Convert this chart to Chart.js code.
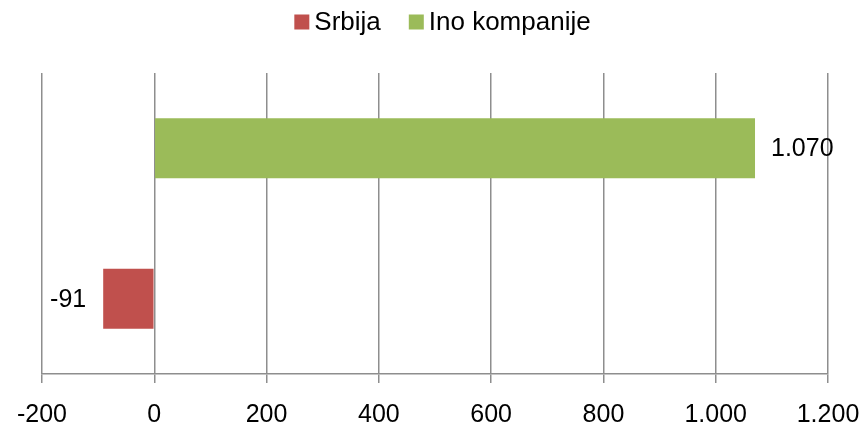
<!DOCTYPE html>
<html>
<head>
<meta charset="utf-8">
<script src="https://cdn.jsdelivr.net/npm/chart.js@4/dist/chart.umd.min.js"></script>
<style>
  html, body { margin: 0; padding: 0; background: #fff; }
</style>
</head>
<body>
<canvas id="barChart" width="865" height="425"></canvas>
<script>
// one bar per row, top row = Ino kompanije, bottom row = Srbija
const rows = ['Ino kompanije', 'Srbija'];
const srbija = [null, -91];
const inoKompanije = [1070, null];
const xTicks = [-200, 0, 200, 400, 600, 800, 1000, 1200];

const FONT = '"Liberation Sans", Arial, sans-serif';

function fmt(v) {
    const s = Math.abs(v).toString().replace(/\B(?=(\d{3})+(?!\d))/g, '.');
    return (v < 0 ? '-' : '') + s;
}

const valueLabels = {
    id: 'valueLabels',
    afterDatasetsDraw(chart) {
        const ctx = chart.ctx;
        ctx.save();
        ctx.font = '25px ' + FONT;
        ctx.fillStyle = '#000';
        ctx.textBaseline = 'middle';
        chart.data.datasets.forEach((ds, i) => {
            const meta = chart.getDatasetMeta(i);
            meta.data.forEach((bar, j) => {
                const v = ds.data[j];
                if (v === null) return;
                if (v >= 0) {
                    ctx.textAlign = 'left';
                    ctx.fillText(fmt(v), bar.x + 16, bar.y + 1);
                } else {
                    ctx.textAlign = 'right';
                    ctx.fillText(fmt(v), bar.x - 17, bar.y + 1);
                }
            });
        });
        ctx.restore();
    }
};

// legend drawn by hand: small square, short gap, label
const topLegend = {
    id: 'topLegend',
    afterDraw(chart) {
        const ctx = chart.ctx;
        const box = 15, gap = 5, between = 28;
        ctx.save();
        ctx.font = '26px ' + FONT;
        ctx.textBaseline = 'middle';
        ctx.textAlign = 'left';
        const items = chart.data.datasets.map(ds => ({
            text: ds.label,
            color: ds.backgroundColor,
            w: ctx.measureText(ds.label).width
        }));
        let total = items.reduce((s, it) => s + box + gap + it.w, 0) + between * (items.length - 1);
        let x = chart.width / 2 + 10 - total / 2;
        const cy = 22;
        items.forEach(it => {
            ctx.fillStyle = it.color;
            ctx.fillRect(x, cy - box / 2, box, box);
            ctx.fillStyle = '#000';
            ctx.fillText(it.text, x + box + gap, cy + 1);
            x += box + gap + it.w + between;
        });
        ctx.restore();
    }
};

document.addEventListener('DOMContentLoaded', () => {
    const ctx = document.getElementById('barChart').getContext('2d');

    new Chart(ctx, {
        type: 'bar',
        data: {
            labels: rows,
            datasets: [{
                label: 'Srbija',
                data: srbija,
                backgroundColor: '#C0504D',
                borderWidth: 0
            }, {
                label: 'Ino kompanije',
                data: inoKompanije,
                backgroundColor: '#9BBB59',
                borderWidth: 0
            }]
        },
        options: {
            indexAxis: 'y',
            responsive: false,
            animation: false,
            maintainAspectRatio: false,
            categoryPercentage: 1,
            barPercentage: 0.4,
            layout: {
                padding: { left: 42, right: 37, top: 73, bottom: -23 }
            },
            plugins: {
                legend: { display: false },
                tooltip: { enabled: false }
            },
            scales: {
                x: {
                    min: -200,
                    max: 1200,
                    afterBuildTicks: (axis) => {
                        axis.ticks = xTicks.map(v => ({ value: v }));
                    },
                    afterFit: (axis) => {
                        // let layout padding alone decide the plot edges
                        axis.paddingLeft = 0;
                        axis.paddingRight = 0;
                    },
                    grid: {
                        color: '#8e8e8e',
                        lineWidth: 1.5,
                        tickLength: 9,
                        drawTicks: true
                    },
                    border: { display: true, color: '#8e8e8e', width: 1.5 },
                    ticks: {
                        color: '#000',
                        padding: 20,
                        maxRotation: 0,
                        autoSkip: false,
                        font: { family: FONT, size: 25, lineHeight: 1 },
                        callback: (v) => fmt(v)
                    }
                },
                y: {
                    stacked: true,
                    display: false
                }
            }
        },
        plugins: [valueLabels, topLegend]
    });
});
</script>
</body>
</html>
